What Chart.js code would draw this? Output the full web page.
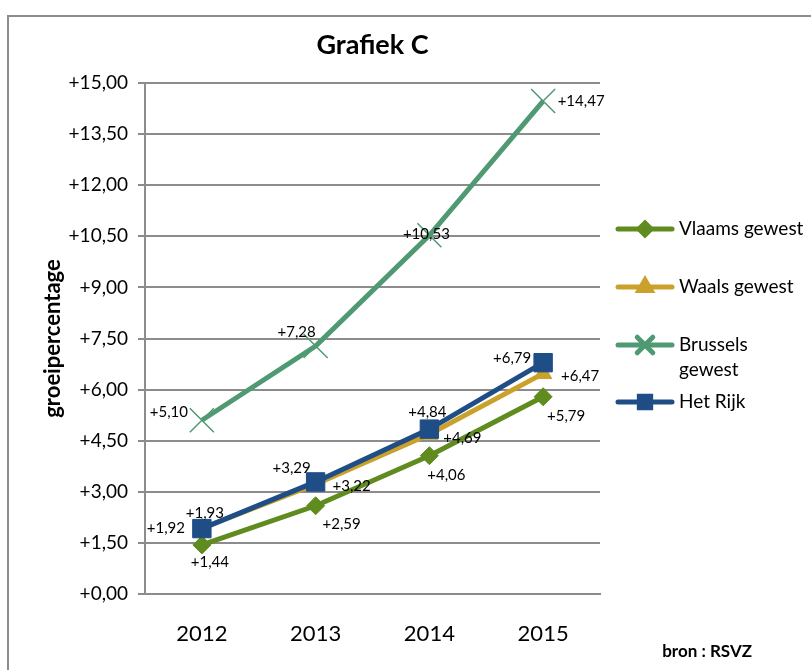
<!DOCTYPE html>
<html><head><meta charset="utf-8">
<script src="https://cdn.jsdelivr.net/npm/chart.js@4"></script>
<style>
html,body{margin:0;padding:0;background:#fff;}
#wrap{position:relative;width:811px;height:670px;overflow:hidden;background:#fff;}
#frame{position:absolute;left:7px;top:15px;width:900px;height:800px;border:2px solid #8c8c8c;box-sizing:border-box;}
#c{position:absolute;left:0;top:0;}
</style></head><body>
<div id="wrap"><div id="frame"></div><canvas id="c" width="811" height="670"></canvas></div>
<script>
const categories = ['2012', '2013', '2014', '2015'];
const vlaams = [1.44, 2.59, 4.06, 5.79];
const waals = [1.93, 3.22, 4.69, 6.47];
const brussels = [5.10, 7.28, 10.53, 14.47];
const rijk = [1.92, 3.29, 4.84, 6.79];
const seriesNames = ['Vlaams gewest', 'Waals gewest', 'Brussels gewest', 'Het Rijk'];
const legendLines = [['Vlaams gewest'], ['Waals gewest'], ['Brussels', 'gewest'], ['Het Rijk']];
const yTickLabels = ['+0,00', '+1,50', '+3,00', '+4,50', '+6,00', '+7,50', '+9,00', '+10,50', '+12,00', '+13,50', '+15,00'];
const chartTitle = 'Grafiek C';
const yTitle = 'groeipercentage';
const sourceText = 'bron : RSVZ';

// label placement (styling only): pixel offsets from each point
const labelOffsets = [
  [[8, 17], [26, 18], [17, 19], [23, 19]],
  [[3, -15], [36, 2], [33, 4], [37, 3]],
  [[-33, -8], [-19, -14], [-3, -1], [38, 0]],
  [[-36, 0], [-24, -14], [-2, -17], [-31, -5]]
];
const colors = ['#5f8b1f', '#c9a12b', '#4f9a72', '#1f4e86'];
const FONT = 'Lato, "Open Sans", sans-serif';

function fmt(v) { return '+' + v.toFixed(2).replace('.', ','); }

const extras = {
  id: 'extras',
  afterDatasetsDraw(chart) {
    const ctx = chart.ctx;
    const ca = chart.chartArea;
    ctx.save();
    // data labels
    ctx.fillStyle = '#000';
    ctx.font = '15px ' + FONT;
    ctx.textAlign = 'center';
    ctx.textBaseline = 'middle';
    chart.data.datasets.forEach((ds, di) => {
      const meta = chart.getDatasetMeta(di);
      meta.data.forEach((pt, i) => {
        const o = labelOffsets[di][i];
        ctx.fillText(fmt(ds.data[i]), pt.x + o[0], pt.y + o[1]);
      });
    });
    // title
    ctx.font = 'bold 27px ' + FONT;
    ctx.fillText(chartTitle, (ca.left + ca.right) / 2, 45);
    // y axis title
    ctx.save();
    ctx.translate(60, (ca.top + ca.bottom) / 2);
    ctx.rotate(-Math.PI / 2);
    ctx.textAlign = 'center';
    ctx.textBaseline = 'alphabetic';
    ctx.font = 'bold 22px ' + FONT;
    ctx.fillText(yTitle, 0, 0);
    ctx.restore();
    // legend
    const lx = 618, lw = 54;
    const ly = [229, 287, 345, 402];
    ctx.textAlign = 'left';
    chart.data.datasets.forEach((ds, di) => {
      const y = ly[di];
      ctx.strokeStyle = ds.borderColor;
      ctx.lineWidth = 5;
      ctx.lineCap = 'round';
      ctx.beginPath(); ctx.moveTo(lx, y); ctx.lineTo(lx + lw, y); ctx.stroke();
      ctx.fillStyle = ds.pointBackgroundColor;
      ctx.strokeStyle = ds.pointBorderColor;
      Chart.helpers.drawPoint(ctx, {pointStyle: ds.pointStyle, radius: ds.legendRadius, rotation: 0, borderWidth: ds.pointBorderWidth}, lx + lw / 2, y);
      ctx.fillStyle = '#000';
      ctx.font = '19px ' + FONT;
      ctx.textBaseline = 'middle';
      legendLines[di].forEach((t, k) => ctx.fillText(t, 679, y + k * 25));
    });
    // source
    ctx.font = 'bold 17px ' + FONT;
    ctx.textAlign = 'right';
    ctx.fillText(sourceText, 752, 652);
    ctx.restore();
  }
};

function ds(i, data, style, radius, legendRadius, bw, order) {
  return {
    label: seriesNames[i], data: data, order: order,
    borderColor: colors[i], backgroundColor: colors[i],
    borderWidth: 5, tension: 0,
    pointStyle: style, pointRadius: radius, pointHoverRadius: radius,
    pointBackgroundColor: colors[i], pointBorderColor: colors[i],
    pointBorderWidth: bw, legendRadius: legendRadius
  };
}

new Chart(document.getElementById('c'), {
  type: 'line',
  data: {
    labels: categories,
    datasets: [
      ds(0, vlaams, 'rectRot', 9, 6, 1, 4),
      ds(1, waals, 'triangle', 10, 7, 1, 3),
      ds(2, brussels, 'crossRot', 17, 11, 1.5, 2),
      ds(3, rijk, 'rect', 13, 8, 1, 1)
    ]
  },
  options: {
    responsive: false, animation: false,
    layout: {padding: {left: 40, right: 211, top: 83, bottom: 0}},
    plugins: {legend: {display: false}, title: {display: false}, tooltip: {enabled: false}},
    scales: {
      x: {
        type: 'category', offset: true,
        grid: {display: false},
        border: {display: true, color: '#8c8c8c', width: 2},
        ticks: {color: '#000', font: {family: FONT, size: 22}, padding: 19},
        afterFit(s) { s.height = 76; }
      },
      y: {
        min: 0, max: 15,
        ticks: {stepSize: 1.5, color: '#000', font: {family: FONT, size: 19}, padding: 10,
          callback: (v, i) => yTickLabels[i]},
        grid: {color: '#8c8c8c', lineWidth: 2, tickLength: 7},
        border: {display: true, color: '#8c8c8c', width: 2},
        title: {display: false},
        afterFit(s) { s.width = 105; }
      }
    }
  },
  plugins: [extras]
});
</script>
</body></html>
